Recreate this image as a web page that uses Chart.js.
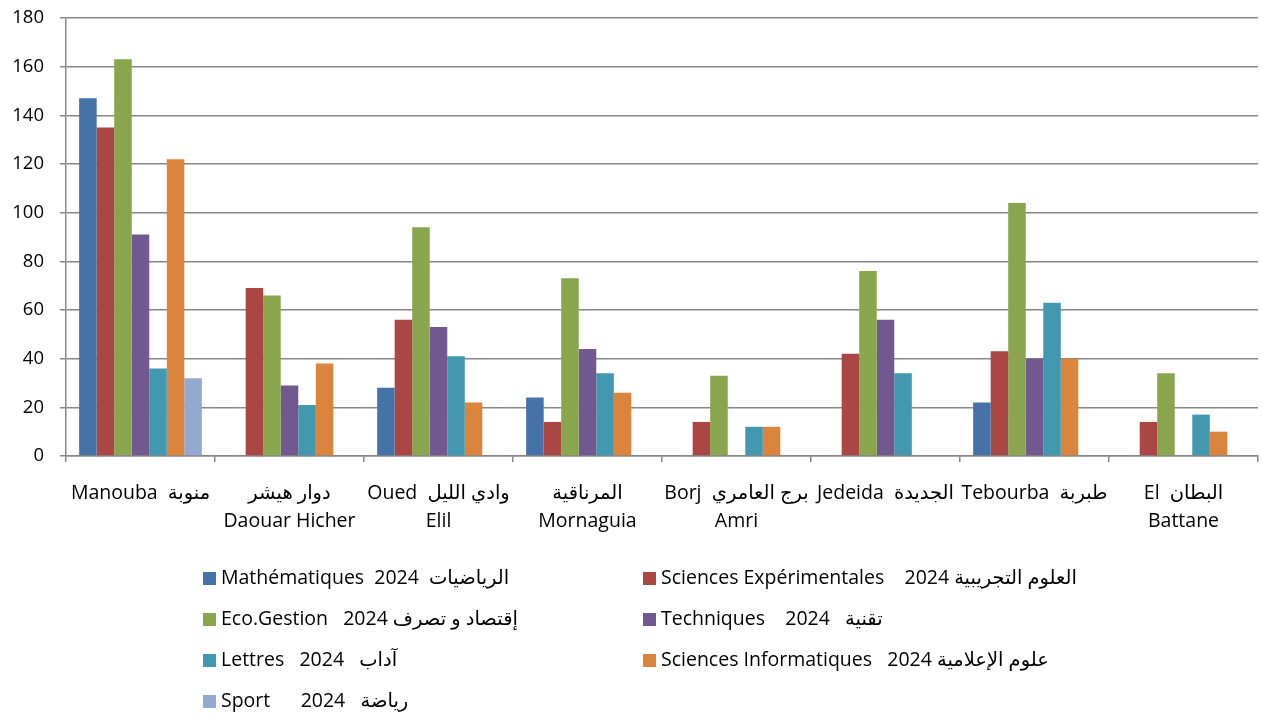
<!DOCTYPE html>
<html>
<head>
<meta charset="utf-8">
<script src="https://cdn.jsdelivr.net/npm/chart.js@4.4.1/dist/chart.umd.min.js"></script>
<style>
html,body{margin:0;padding:0;background:#fff;}
#wrap{width:1263px;height:715px;position:relative;}
</style>
</head>
<body>
<div id="wrap"><canvas id="c" width="1263" height="715"></canvas></div>
<script>
const categories = [
  ["Manouba  منوبة"],
  ["دوار هيشر", "Daouar Hicher"],
  ["Oued  وادي الليل", "Elil"],
  ["المرناقية", "Mornaguia"],
  ["Borj  برج العامري", "Amri"],
  ["Jedeida  الجديدة"],
  ["Tebourba  طبربة"],
  ["El  البطان", "Battane"]
];
const seriesNames = [
  "Mathématiques  2024  الرياضيات",
  "Sciences Expérimentales    2024 العلوم التجريبية",
  "Eco.Gestion   2024 إقتصاد و تصرف",
  "Techniques    2024   تقنية",
  "Lettres   2024   آداب",
  "Sciences Informatiques   2024 علوم الإعلامية",
  "Sport      2024   رياضة"
];
const mathematiques = [147, null, 28, 24, null, null, 22, null];
const sciencesExp   = [135, 69, 56, 14, 14, 42, 43, 14];
const ecoGestion    = [163, 66, 94, 73, 33, 76, 104, 34];
const techniques    = [91, 29, 53, 44, null, 56, 40, null];
const lettres       = [36, 21, 41, 34, 12, 34, 63, 17];
const sciencesInfo  = [122, 38, 22, 26, 12, null, 40, 10];
const sport         = [32, null, null, null, null, null, null, null];
const yTicks = [0, 20, 40, 60, 80, 100, 120, 140, 160, 180];

const colors = ["#4572A7", "#AA4643", "#89A54E", "#71588F", "#4198AF", "#DB843D", "#93A9CF"];
const seriesData = [mathematiques, sciencesExp, ecoGestion, techniques, lettres, sciencesInfo, sport];

const FONT = "'Open Sans', 'DejaVu Sans', sans-serif";

const legendPlugin = {
  id: 'gridLegend',
  afterDraw(chart) {
    const ctx = chart.ctx;
    const colX = [203, 643];
    const rowY0 = 578, rowH = 41;
    ctx.save();
    ctx.font = "19.5px " + FONT;
    ctx.textBaseline = 'middle';
    ctx.textAlign = 'left';
    ctx.direction = 'ltr';
    chart.data.datasets.forEach((ds, i) => {
      const x = colX[i % 2];
      const y = rowY0 + Math.floor(i / 2) * rowH;
      ctx.fillStyle = ds.backgroundColor;
      ctx.fillRect(x, y - 6, 13, 13);
      ctx.fillStyle = '#000';
      ctx.fillText(ds.label, x + 18, y);
    });
    ctx.restore();
  }
};

new Chart(document.getElementById('c'), {
  type: 'bar',
  data: {
    labels: categories,
    datasets: seriesData.map((d, i) => ({
      label: seriesNames[i],
      data: d,
      backgroundColor: colors[i],
      borderWidth: 0,
      categoryPercentage: 7 / 8.5,
      barPercentage: 1
    }))
  },
  options: {
    responsive: false,
    animation: false,
    layout: { padding: { top: 18, right: 5, left: 0, bottom: 179 } },
    plugins: { legend: { display: false }, tooltip: { enabled: false } },
    scales: {
      x: {
        offset: true,
        grid: { display: true, drawOnChartArea: false, drawTicks: true, tickLength: 6, color: '#878787', lineWidth: 1.5, offset: true },
        border: { display: true, color: '#878787', width: 1.5 },
        ticks: { color: '#000', font: { family: FONT, size: 19.5, lineHeight: '28px' }, padding: 17, maxRotation: 0, autoSkip: false },
        afterFit(s) { s.height = 80; }
      },
      y: {
        min: 0, max: 180,
        afterBuildTicks(s) { s.ticks = yTicks.map(v => ({ value: v })); },
        grid: { color: '#878787', lineWidth: 1.5, tickLength: 6, drawTicks: true },
        border: { display: true, color: '#878787', width: 1.5 },
        ticks: { color: '#000', font: { family: FONT, size: 18.5 }, padding: 16 },
        afterFit(s) { s.width = 66; s.paddingTop = 0; s.paddingBottom = 0; }
      }
    }
  },
  plugins: [legendPlugin]
});
</script>
</body>
</html>
